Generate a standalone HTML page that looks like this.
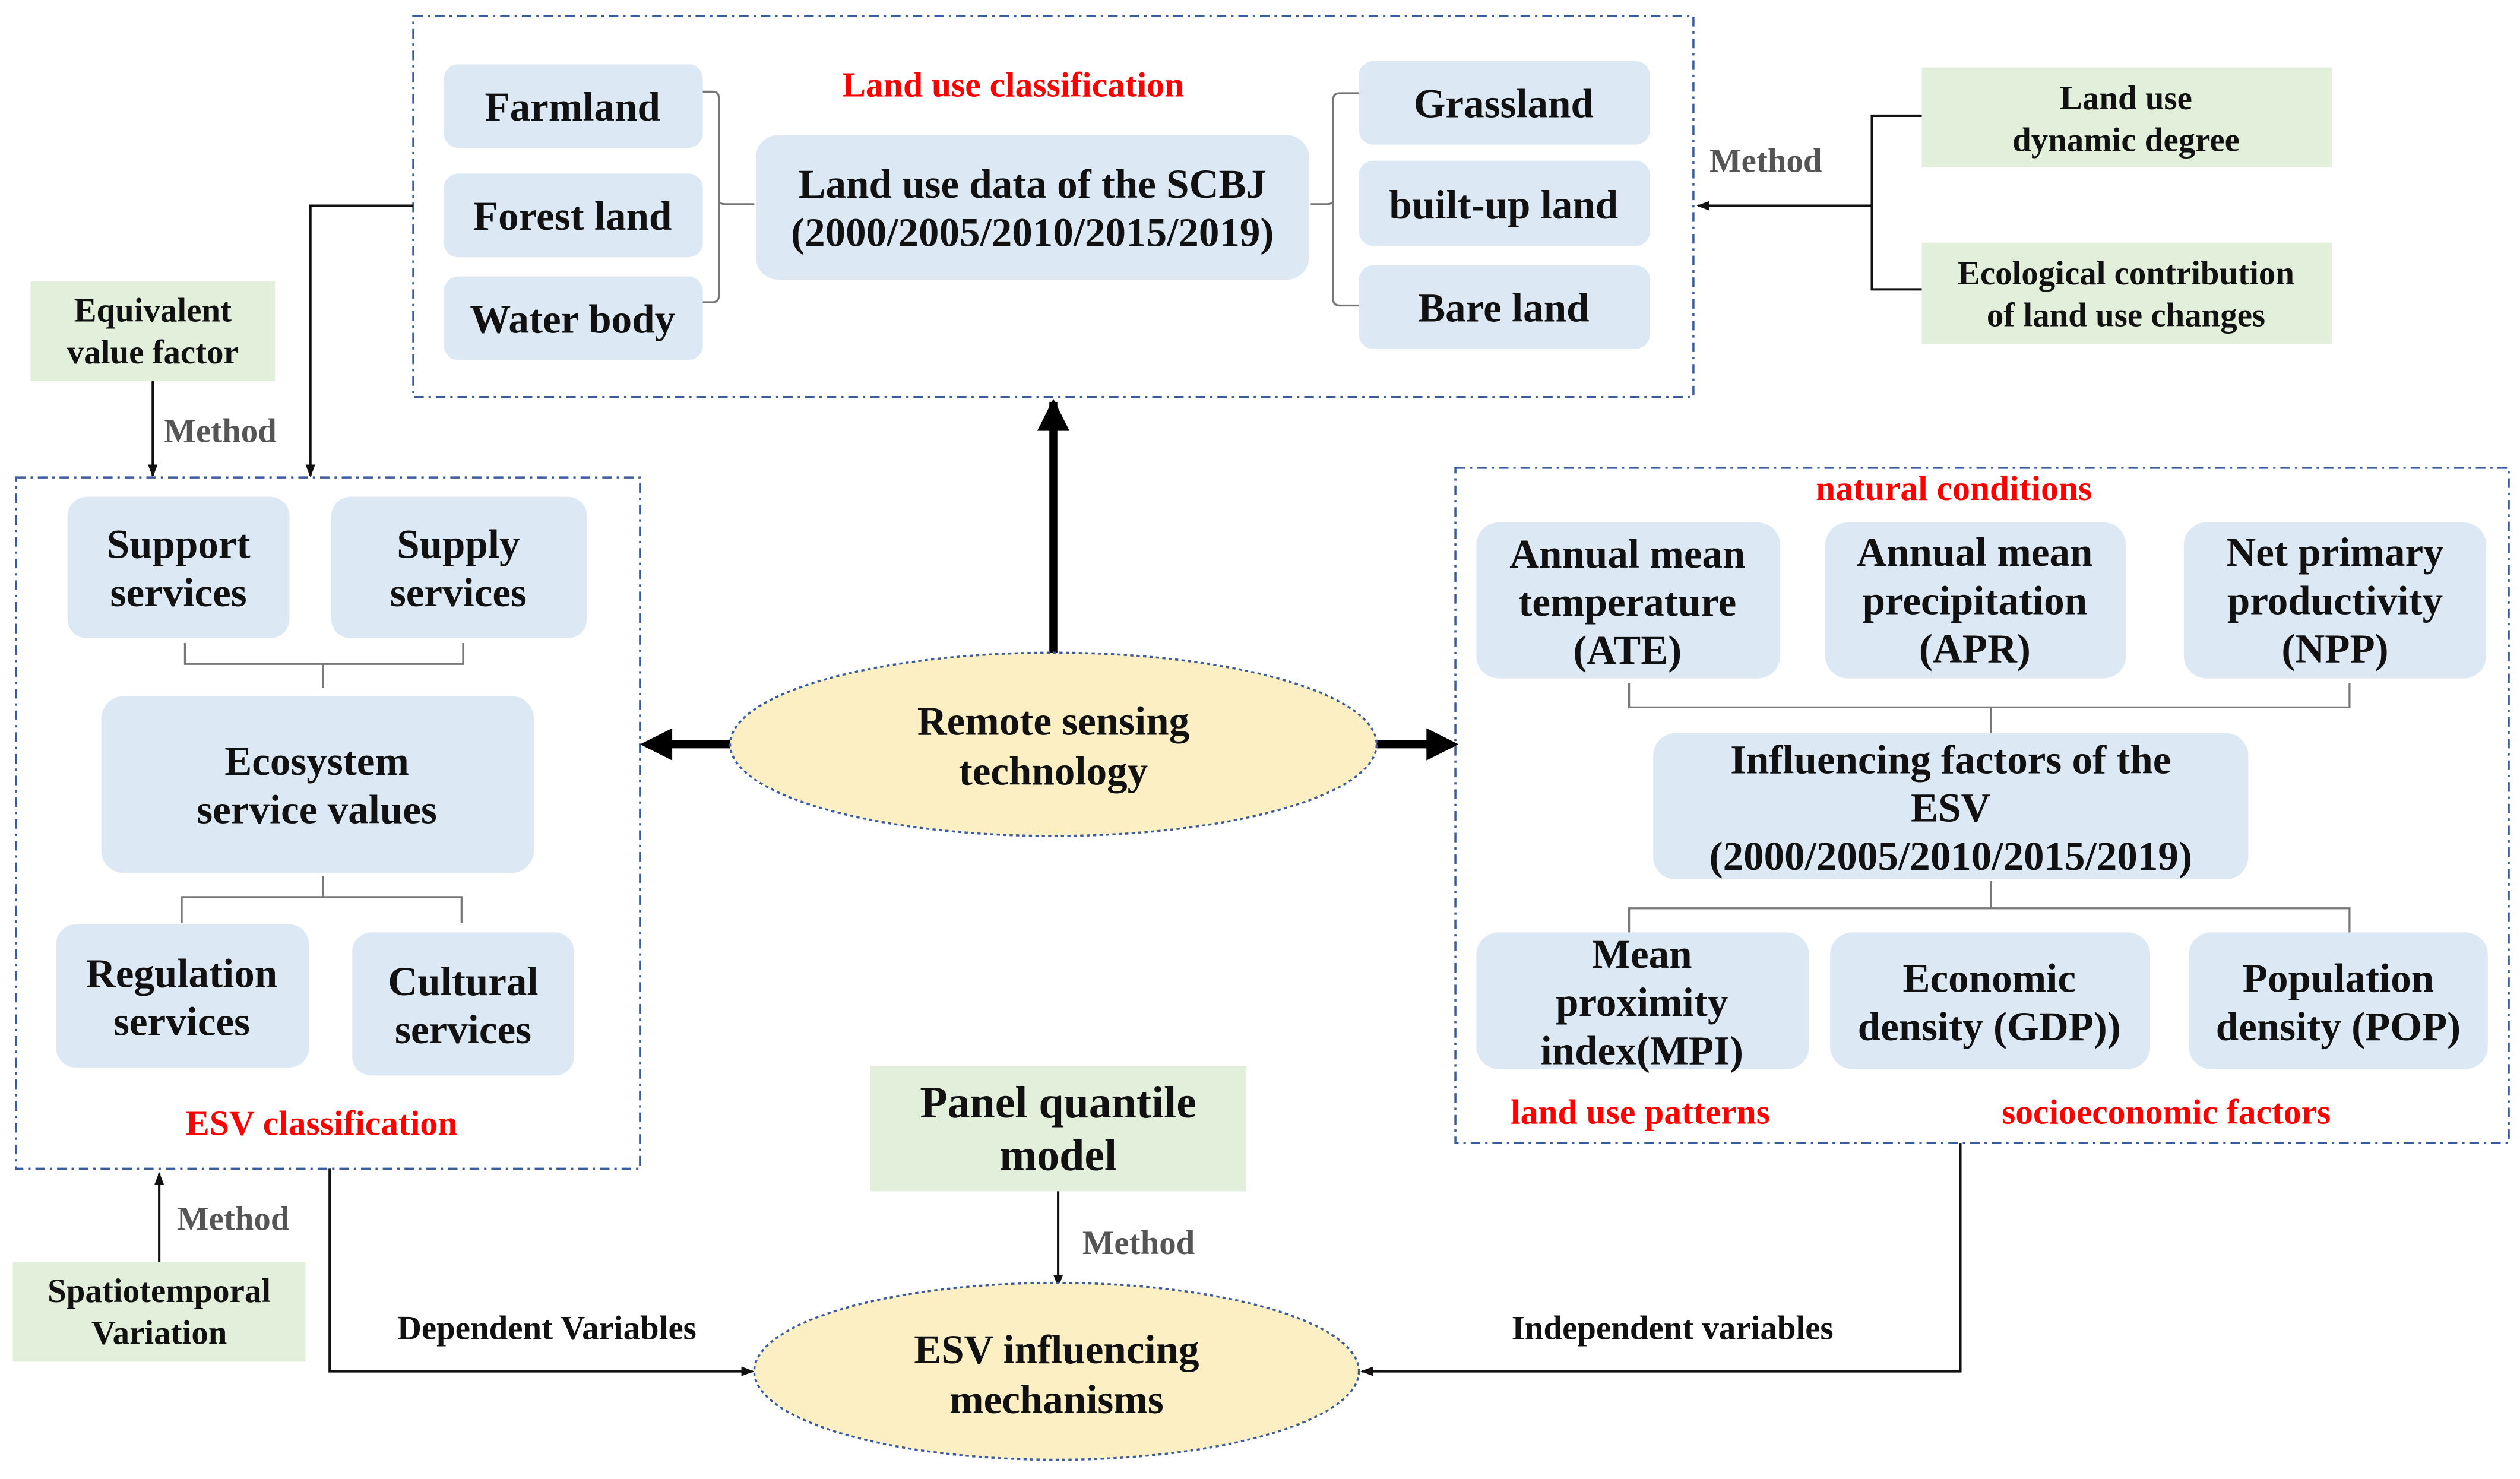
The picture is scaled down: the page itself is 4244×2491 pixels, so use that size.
<!DOCTYPE html>
<html><head><meta charset="utf-8"><style>
html,body{margin:0;padding:0;background:#fff}
svg{display:block}
text{font-family:"Liberation Serif",serif;font-weight:bold;text-anchor:middle;fill:#111}
.r{fill:#ff0000;font-size:22px}
.m{fill:#555;font-size:21px}
.b{font-size:25.5px}
.s{font-size:21px}
.bx{fill:#dde8f5}
.g{fill:#e2efda}
.d{fill:none;stroke:#3b5c9c;stroke-width:1.3;stroke-dasharray:6,3,1.5,3}
.l{fill:none;stroke:#777;stroke-width:1.2}
.k{fill:none;stroke:#111;stroke-width:1.5}
</style></head><body>
<svg width="4244" height="2491" viewBox="0 0 1567 920" preserveAspectRatio="none" xmlns="http://www.w3.org/2000/svg">
<defs><marker id="a" markerWidth="8" markerHeight="8" refX="7" refY="4" orient="auto" markerUnits="userSpaceOnUse"><path d="M0,1 L8,4 L0,7 z" fill="#111"/></marker></defs>

<rect class="d" x="257" y="10" width="796" height="237"/>
<rect class="bx" x="276" y="40" width="161" height="52" rx="9"/>
<text class="b" x="356" y="75">Farmland</text>
<rect class="bx" x="276" y="108" width="161" height="52" rx="9"/>
<text class="b" x="356" y="143">Forest land</text>
<rect class="bx" x="276" y="172" width="161" height="52" rx="9"/>
<text class="b" x="356" y="207">Water body</text>
<rect class="bx" x="470" y="84" width="344" height="90" rx="14"/>
<text class="b" x="642" y="123">Land use data of the SCBJ</text>
<text class="b" x="642" y="153">(2000/2005/2010/2015/2019)</text>
<rect class="bx" x="845" y="38" width="181" height="52" rx="9"/>
<text class="b" x="935" y="73">Grassland</text>
<rect class="bx" x="845" y="100" width="181" height="53" rx="9"/>
<text class="b" x="935" y="136">built-up land</text>
<rect class="bx" x="845" y="165" width="181" height="52" rx="9"/>
<text class="b" x="935" y="200">Bare land</text>
<text class="r" x="630" y="60">Land use classification</text>
<path class="l" d="M437,57 h6 q4,0 4,4 v123 q0,4 -4,4 h-6 M447,125 q0,2 5,2 h17"/>
<path class="l" d="M845,58 h-12 q-4,0 -4,4 v124 q0,4 4,4 h12 M829,125 q0,2 -5,2 h-9"/>

<rect class="g" x="1195" y="42" width="255" height="62"/>
<text class="s" x="1322" y="68">Land use</text>
<text class="s" x="1322" y="94">dynamic degree</text>
<rect class="g" x="1195" y="151" width="255" height="63"/>
<text class="s" x="1322" y="177">Ecological contribution</text>
<text class="s" x="1322" y="203">of land use changes</text>
<path class="k" d="M1195,72 H1164 V180 H1195"/>
<path class="k" d="M1164,128 H1056" marker-end="url(#a)"/>
<text class="m" x="1098" y="107">Method</text>

<path class="k" d="M257,128 H193 V296" marker-end="url(#a)"/>
<rect class="g" x="19" y="175" width="152" height="62"/>
<text class="s" x="95" y="200">Equivalent</text>
<text class="s" x="95" y="226">value factor</text>
<path class="k" d="M95,237 V296" marker-end="url(#a)"/>
<text class="m" x="137" y="275">Method</text>

<rect class="d" x="10" y="297" width="388" height="430"/>
<rect class="bx" x="42" y="309" width="138" height="88" rx="12"/>
<text class="b" x="111" y="347">Support</text>
<text class="b" x="111" y="377">services</text>
<rect class="bx" x="206" y="309" width="159" height="88" rx="12"/>
<text class="b" x="285" y="347">Supply</text>
<text class="b" x="285" y="377">services</text>
<rect class="bx" x="63" y="433" width="269" height="110" rx="14"/>
<text class="b" x="197" y="482">Ecosystem</text>
<text class="b" x="197" y="512">service values</text>
<rect class="bx" x="35" y="575" width="157" height="89" rx="12"/>
<text class="b" x="113" y="614">Regulation</text>
<text class="b" x="113" y="644">services</text>
<rect class="bx" x="219" y="580" width="138" height="89" rx="12"/>
<text class="b" x="288" y="619">Cultural</text>
<text class="b" x="288" y="649">services</text>
<path class="l" d="M115,400 V413 H288 V400 M201,413 V428"/>
<path class="l" d="M201,545 V558 M113,574 V558 H287 V574"/>
<text class="r" x="200" y="706">ESV classification</text>
<rect class="g" x="8" y="785" width="182" height="62"/>
<text class="s" x="99" y="810">Spatiotemporal</text>
<text class="s" x="99" y="836">Variation</text>
<path class="k" d="M99,785 V730" marker-end="url(#a)"/>
<text class="m" x="145" y="765">Method</text>

<path d="M655,407 V250" stroke="#000" stroke-width="5"/>
<path d="M645,268 L655,248 L665,268 z" fill="#000"/>
<path d="M455,463 H416" stroke="#000" stroke-width="5"/>
<path d="M418,453 L398,463 L418,473 z" fill="#000"/>
<path d="M856,463 H890" stroke="#000" stroke-width="5"/>
<path d="M887,453 L907,463 L887,473 z" fill="#000"/>
<ellipse cx="655" cy="463" rx="201" ry="57" fill="#fcefc4" stroke="#3b5c9c" stroke-width="1.3" stroke-dasharray="2,2"/>
<text class="b" x="655" y="457">Remote sensing</text>
<text class="b" x="655" y="488">technology</text>

<rect class="d" x="905" y="291" width="655" height="420"/>
<text class="r" x="1215" y="311">natural conditions</text>
<rect class="bx" x="918" y="325" width="189" height="97" rx="14"/>
<text class="b" x="1012" y="353">Annual mean</text>
<text class="b" x="1012" y="383">temperature</text>
<text class="b" x="1012" y="413">(ATE)</text>
<rect class="bx" x="1135" y="325" width="187" height="97" rx="14"/>
<text class="b" x="1228" y="352">Annual mean</text>
<text class="b" x="1228" y="382">precipitation</text>
<text class="b" x="1228" y="412">(APR)</text>
<rect class="bx" x="1358" y="325" width="188" height="97" rx="14"/>
<text class="b" x="1452" y="352">Net primary</text>
<text class="b" x="1452" y="382">productivity</text>
<text class="b" x="1452" y="412">(NPP)</text>
<path class="l" d="M1013,425 V440 H1461 V425 M1238,440 V456"/>
<rect class="bx" x="1028" y="456" width="370" height="91" rx="14"/>
<text class="b" x="1213" y="481">Influencing factors of the</text>
<text class="b" x="1213" y="511">ESV</text>
<text class="b" x="1213" y="541">(2000/2005/2010/2015/2019)</text>
<path class="l" d="M1238,548 V565 M1013,580 V565 H1461 V580"/>
<rect class="bx" x="918" y="580" width="207" height="85" rx="14"/>
<text class="b" x="1021" y="602">Mean</text>
<text class="b" x="1021" y="632">proximity</text>
<text class="b" x="1021" y="662">index(MPI)</text>
<rect class="bx" x="1138" y="580" width="199" height="85" rx="14"/>
<text class="b" x="1237" y="617">Economic</text>
<text class="b" x="1237" y="647">density (GDP))</text>
<rect class="bx" x="1361" y="580" width="186" height="85" rx="14"/>
<text class="b" x="1454" y="617">Population</text>
<text class="b" x="1454" y="647">density (POP)</text>
<text class="r" x="1020" y="699">land use patterns</text>
<text class="r" x="1347" y="699">socioeconomic factors</text>

<rect class="g" x="541" y="663" width="234" height="78"/>
<text class="b" x="658" y="695" style="font-size:28px">Panel quantile</text>
<text class="b" x="658" y="728" style="font-size:28px">model</text>
<path class="k" d="M658,741 V800" marker-end="url(#a)"/>
<text class="m" x="708" y="780">Method</text>
<path class="k" d="M205,727 V853 H468" marker-end="url(#a)"/>
<text class="s" x="340" y="833">Dependent Variables</text>
<path class="k" d="M1219,711 V853 H847" marker-end="url(#a)"/>
<text class="s" x="1040" y="833">Independent variables</text>
<ellipse cx="657" cy="853" rx="188" ry="55" fill="#fcefc4" stroke="#3b5c9c" stroke-width="1.3" stroke-dasharray="2,2"/>
<text class="b" x="657" y="848">ESV influencing</text>
<text class="b" x="657" y="879">mechanisms</text>
</svg>
</body></html>
